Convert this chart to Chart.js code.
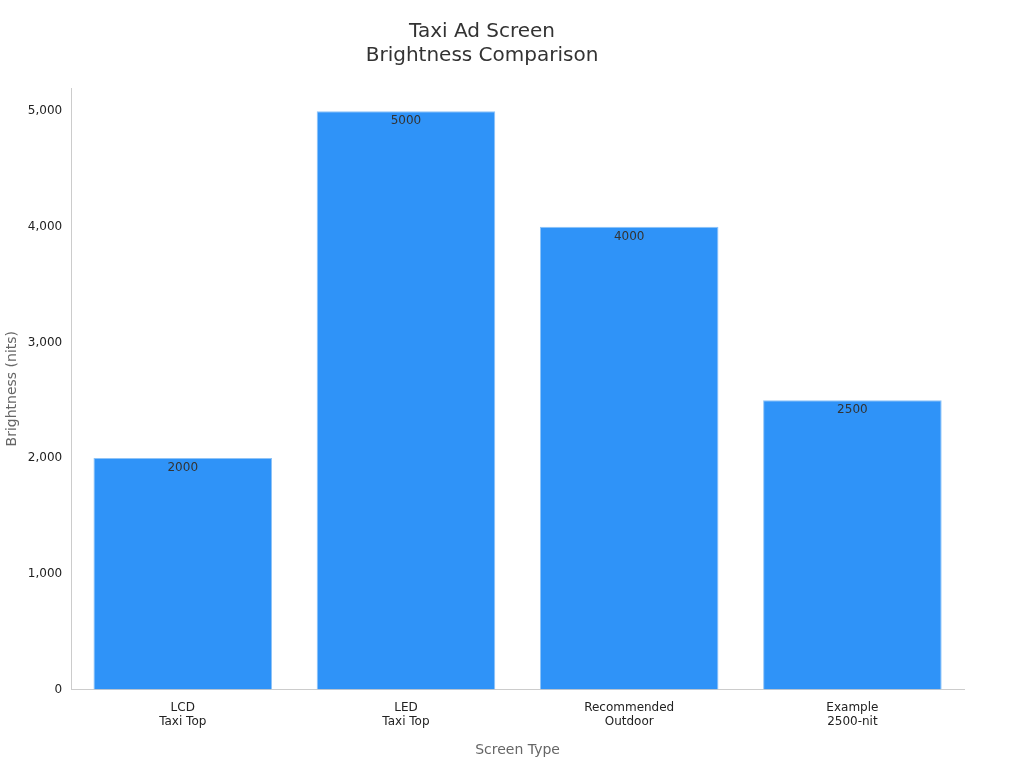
<!DOCTYPE html>
<html><head><meta charset="utf-8">
<script src="https://cdn.jsdelivr.net/npm/chart.js@4"></script>
<style>html,body{margin:0;background:#fff}#w{width:1024px;height:768px}</style>
</head><body><div id="w"><canvas id="c"></canvas></div>
<script>
const categories = [["LCD","Taxi Top"],["LED","Taxi Top"],["Recommended","Outdoor"],["Example","2500-nit"]];
const brightness = [2000, 5000, 4000, 2500];
const yTicks = [0,1000,2000,3000,4000,5000];
Chart.defaults.font.family = "DejaVu Sans";
const labelPlugin = {id:'lbl', afterDatasetsDraw(ch){
  const ctx=ch.ctx; ctx.save(); ctx.font='12px DejaVu Sans'; ctx.fillStyle='#333'; ctx.textAlign='center'; ctx.textBaseline='top';
  ch.getDatasetMeta(0).data.forEach((b,i)=>ctx.fillText(String(brightness[i]), b.x, b.y+4));
  ctx.restore();}};
new Chart(document.getElementById('c'),{type:'bar',
 data:{labels:categories,datasets:[{data:brightness,backgroundColor:'#2f93f8',borderColor:'#8ec3f7',borderWidth:1,barPercentage:0.8,categoryPercentage:1}]},
 options:{responsive:true,maintainAspectRatio:false,animation:false,
  layout:{padding:{left:0,right:60,top:10,bottom:5}},
  plugins:{legend:{display:false},tooltip:{enabled:false},
   title:{display:true,text:['Taxi Ad Screen','Brightness Comparison'],color:'#333',font:{size:20,weight:'normal'},padding:{top:10,bottom:20},lineHeight:1.3}},
  scales:{
   x:{grid:{display:false,drawTicks:true},border:{color:'#ccc'},ticks:{color:'#222',font:{size:12}},
      title:{display:true,text:'Screen Type',color:'#666',font:{size:14},padding:{top:10}}},
   y:{min:0,max:5200,afterBuildTicks:a=>{a.ticks=yTicks.map(v=>({value:v}));},
      grid:{display:false,drawTicks:true,tickLength:6},border:{color:'#ccc'},ticks:{color:'#222',font:{size:12}},
      title:{display:true,text:'Brightness (nits)',color:'#666',font:{size:14}}}}},
 plugins:[labelPlugin]});
</script></body></html>
